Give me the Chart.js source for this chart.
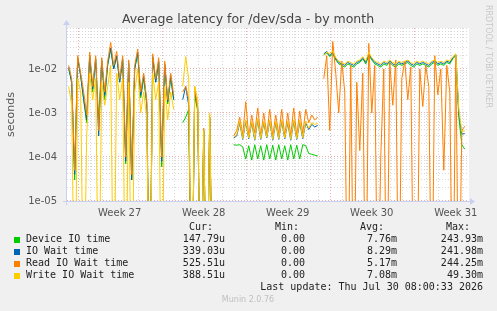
<!DOCTYPE html>
<html>
<head>
<meta charset="utf-8">
<script src="https://cdn.jsdelivr.net/npm/chart.js@4/dist/chart.umd.min.js"></script>
<style>
  html, body { margin: 0; padding: 0; background: #f0f0f0; }
  canvas { display: block; }
</style>
</head>
<body>
<canvas id="chart" width="497" height="311"></canvas>
<script>
// samples every 6 hours, day 0 = monday of week 27
const startDay = -0.75;
const stepDay = 0.25;

const weekCenters = [3.5, 10.5, 17.5, 24.5, 31.5];
const weekLabels = ["Week 27", "Week 28", "Week 29", "Week 30", "Week 31"];

const seriesNames = ["Device IO time", "IO Wait time", "Read IO Wait time", "Write IO Wait time"];
const seriesColors = ["#00cc00", "#0066b3", "#ff8000", "#ffcc00"];
const curValues = ["147.79u", "339.03u", "525.51u", "388.51u"];
const minValues = ["0.00", "0.00", "0.00", "0.00"];
const avgValues = ["7.76m", "8.29m", "5.17m", "7.08m"];
const maxValues = ["243.93m", "241.98m", "244.25m", "49.30m"];

const deviceIo = [
  0.01, 0.005, 0.00003, 0.017, 0.007, 0.002, 0.0006, 0.019, 0.003, 0.016,
  0.0007, 0.015, 0.002, 0.012, 0.028, 0.01, 0.019, 0.005, 0.016, 0.00007,
  0.013, 0.00003, 0.01, 0.022, 0.0022, 0.006, 0.0016, 0, 0.018, 0.005,
  0.014, 0.00006, 0.012, 0.0016, 0.006, 0.002,
  null, null,
  0.0006, 0.0008, 0.0012, 0, 0.0025, 0.0011, 0, 0.0004, 0, 0.0007, 0, 0, 0, 0,
  null, null, null,
  1.9e-4, 1.85e-4, 1.9e-4, 1.7e-4, 9e-5, 1.8e-4, 8.5e-5, 1.9e-4, 9e-5, 1.8e-4,
  8.5e-5, 1.9e-4, 9e-5, 1.85e-4, 8.5e-5, 1.9e-4, 9e-5, 1.8e-4, 8.5e-5, 1.9e-4,
  9e-5, 1.85e-4, 9e-5, 1.9e-4, 1.8e-4, 1.2e-4, 1.15e-4, 1.1e-4, 1.05e-4,
  null,
  0.021, 0.023, 0.019, 0.022, 0.016, 0.013, 0.012, 0.011, 0.013, 0.012,
  0.011, 0.013, 0.014, 0.017, 0.013, 0.02, 0.016, 0.013, 0.012, 0.011,
  0.013, 0.012, 0.014, 0.012, 0.011, 0.013, 0.012, 0.013, 0.014, 0.012,
  0.011, 0.013, 0.012, 0.013, 0.012, 0.011, 0.013, 0.014, 0.012, 0.013,
  0.012, 0.014, 0.013, 0.017, 0.02, 0.0008, 0.00019, 0.00015
];

const ioWait = [
  0.011, 0.005, 0.00004, 0.018, 0.007, 0.002, 0.0007, 0.02, 0.0035, 0.017,
  0.0003, 0.016, 0.0025, 0.013, 0.03, 0.01, 0.02, 0.005, 0.017, 0.00008,
  0.014, 0.00003, 0.01, 0.024, 0.0025, 0.007, 0.0018, 0, 0.019, 0.005,
  0.015, 0.00008, 0.013, 0.0018, 0.007, 0.002,
  null, null,
  0.002, 0.004, 0.0015, 0, 0.003, 0.0013, 0, 0.0004, 0, 0.0008, 0, 0, 0, 0,
  null, null, null,
  2.7e-4, 3e-4, 6e-4, 2.5e-4, 6.5e-4, 2.6e-4, 6e-4, 2.4e-4, 7e-4, 2.5e-4,
  6e-4, 2.7e-4, 6.5e-4, 2.4e-4, 6e-4, 2.5e-4, 6.5e-4, 2.6e-4, 6e-4, 2.4e-4,
  6.5e-4, 2.5e-4, 6.2e-4, 2.6e-4, 6e-4, 4.2e-4, 5.5e-4, 4.8e-4, 5.2e-4,
  null,
  0.022, 0.025, 0.02, 0.024, 0.017, 0.014, 0.013, 0.012, 0.014, 0.013,
  0.012, 0.014, 0.015, 0.018, 0.014, 0.022, 0.017, 0.014, 0.013, 0.012,
  0.014, 0.013, 0.015, 0.013, 0.012, 0.014, 0.013, 0.014, 0.015, 0.013,
  0.012, 0.014, 0.013, 0.014, 0.013, 0.012, 0.014, 0.015, 0.013, 0.014,
  0.013, 0.015, 0.014, 0.018, 0.021, 0.001, 0.00033, 0.00034
];

const readWait = [
  0.012, 0.006, 0.00005, 0.02, 0.008, 0.003, 0.0009, 0.024, 0.004, 0.02,
  0.0004, 0.018, 0.003, 0.015, 0.04, 0.012, 0.025, 0.006, 0.02, 0.0001,
  0.016, 0.00004, 0.012, 0.028, 0.003, 0.008, 0.002, 0, 0.022, 0.006,
  0.018, 0.0001, 0.015, 0.002, 0.008, 0.0025,
  null, null,
  0.003, 0.004, 0.002, 0, 0.004, 0.0012, 0, 0.00045, 0, 0.0008, 0, 0, 0, 0,
  null, null, null,
  3e-4, 4e-4, 8e-4, 3.2e-4, 1.8e-3, 3e-4, 9e-4, 3.5e-4, 1.3e-3, 3e-4,
  1e-3, 3.2e-4, 1.2e-3, 3e-4, 9e-4, 3.3e-4, 1.2e-3, 3e-4, 1e-3, 3.1e-4,
  1.3e-3, 3e-4, 1.1e-3, 3.4e-4, 1.2e-3, 6e-4, 9e-4, 7e-4, 8e-4,
  null,
  0.006, 0.02, 0.0004, 0.042, 0.008, 0.001, 0.015, 0.003, 0, 0.012,
  0, 0.005, 0.00014, 0.008, 0, 0.038, 0.001, 0.012, 0, 0.0001,
  0.01, 0, 0.014, 0.0015, 0.016, 0, 0.006, 0.015, 0.002, 0.011,
  0, 0, 0.01, 0.0014, 0.012, 0.004, 0, 0.02, 0.0026, 0.01,
  0.00005, 0.012, 0.003, 0, 0.02, 0, 0.0004, 0.0005
];

const writeWait = [
  0.004, 0.0015, 0, 0.006, 0.003, 0, 0.0003, 0.008, 0.002, 0.006,
  0, 0.005, 0.0015, 0.004, 0.012, 0, 0.008, 0.002, 0.006, 0,
  0.005, 0, 0.003, 0.01, 0.001, 0.003, 0.0008, 0, 0.008, 0.002,
  0.005, 0, 0.004, 0.0007, 0.003, 0.0012,
  null, null,
  0.004, 0.019, 0.006, 0, 0.004, 0.002, 0, 0.0004, 0, 0.001, 0, 0, 0, 0,
  null, null, null,
  2.8e-4, 3.2e-4, 6.5e-4, 2.6e-4, 7e-4, 2.7e-4, 6.5e-4, 2.5e-4, 7.5e-4, 2.6e-4,
  6.5e-4, 2.8e-4, 7e-4, 2.5e-4, 6.5e-4, 2.6e-4, 7e-4, 2.7e-4, 6.5e-4, 2.5e-4,
  7e-4, 2.6e-4, 6.8e-4, 2.7e-4, 6.5e-4, 4.5e-4, 6e-4, 5.5e-4, 5.8e-4,
  null,
  0.02, 0.024, 0.022, 0.026, 0.018, 0.015, 0.014, 0.013, 0.015, 0.014,
  0.013, 0.015, 0.016, 0.019, 0.015, 0.024, 0.018, 0.015, 0.014, 0.013,
  0.015, 0.014, 0.016, 0.014, 0.013, 0.015, 0.014, 0.015, 0.016, 0.014,
  0.013, 0.015, 0.014, 0.015, 0.014, 0.013, 0.015, 0.016, 0.014, 0.015,
  0.014, 0.016, 0.015, 0.019, 0.022, 0.0012, 0.00038, 0.00039
];

const allSeries = [deviceIo, ioWait, readWait, writeWait];

// a log axis cannot show 0, so zero samples are drawn just under the bottom edge (clipped) like rrdtool does
const zeroFloor = 1e-8;

function toPoints(values) {
  return values.map((v, i) => ({ x: startDay + i * stepDay, y: v === 0 ? zeroFloor : v }));
}

function expLabel(v) {
  const e = Math.log10(v);
  if (Math.abs(e - Math.round(e)) > 1e-6) return "";
  const n = Math.round(e);
  return "1e" + (n < 0 ? "-" : "+") + String(Math.abs(n)).padStart(2, "0");
}

const MONO = "10px 'DejaVu Sans Mono'";
const GRID_MINOR = "rgba(170,170,170,0.45)";
const GRID_MAJOR = "rgba(225,120,120,0.6)";

// background, dotted grid, axes with arrows and the munin text block
const muninLook = {
  id: "muninLook",
  beforeDraw(chart) {
    const { ctx, chartArea: a } = chart;
    ctx.save();
    ctx.fillStyle = "#f0f0f0";
    ctx.fillRect(0, 0, chart.width, chart.height);
    ctx.fillStyle = "#ffffff";
    ctx.fillRect(a.left, a.top, a.right - a.left, a.bottom - a.top);
    ctx.restore();
  },
  beforeDatasetsDraw(chart) {
    const { ctx, chartArea: a } = chart;
    const xs = chart.scales.x, ys = chart.scales.y;
    ctx.save();
    ctx.lineWidth = 1;
    ctx.setLineDash([1, 2]);
    // days
    for (let d = Math.ceil(xs.min); d <= xs.max; d++) {
      const x = Math.round(xs.getPixelForValue(d)) + 0.5;
      ctx.strokeStyle = d % 7 === 0 ? GRID_MAJOR : GRID_MINOR;
      ctx.beginPath(); ctx.moveTo(x, a.top); ctx.lineTo(x, a.bottom); ctx.stroke();
    }
    // log lines
    for (let e = -5; e <= -1; e++) {
      for (let m = 1; m <= 9; m++) {
        const v = m * Math.pow(10, e);
        if (v < ys.min || v > ys.max) continue;
        const y = Math.round(ys.getPixelForValue(v)) - 0.5;
        ctx.strokeStyle = m === 1 ? GRID_MAJOR : GRID_MINOR;
        ctx.beginPath(); ctx.moveTo(a.left, y); ctx.lineTo(a.right, y); ctx.stroke();
      }
    }
    ctx.restore();
  },
  afterDatasetsDraw(chart) {
    const { ctx, chartArea: a } = chart;
    ctx.save();
    ctx.strokeStyle = "#c9d0f2";
    ctx.fillStyle = "#c9d0f2";
    ctx.lineWidth = 1;
    ctx.beginPath();
    ctx.moveTo(a.left - 0.5, a.bottom + 4); ctx.lineTo(a.left - 0.5, a.top - 4);
    ctx.moveTo(a.left - 4, a.bottom + 0.5); ctx.lineTo(a.right + 2, a.bottom + 0.5);
    ctx.stroke();
    ctx.beginPath();
    ctx.moveTo(a.left - 4, a.top - 3); ctx.lineTo(a.left + 3, a.top - 3); ctx.lineTo(a.left - 0.5, a.top - 8);
    ctx.closePath(); ctx.fill();
    ctx.beginPath();
    ctx.moveTo(a.right + 1, a.bottom - 3); ctx.lineTo(a.right + 1, a.bottom + 4); ctx.lineTo(a.right + 6, a.bottom + 0.5);
    ctx.closePath(); ctx.fill();
    ctx.restore();
  },
  afterDraw(chart) {
    const ctx = chart.ctx;
    ctx.save();
    // title
    ctx.fillStyle = "#444";
    ctx.font = "12.5px 'DejaVu Sans'";
    ctx.textAlign = "center";
    ctx.textBaseline = "alphabetic";
    ctx.fillText("Average latency for /dev/sda - by month", 248, 23);

    // vertical rrdtool credit
    ctx.save();
    ctx.translate(485, 5);
    ctx.rotate(Math.PI / 2);
    ctx.fillStyle = "#c8c8c8";
    ctx.font = "8px 'DejaVu Sans'";
    ctx.textAlign = "left";
    ctx.textBaseline = "middle";
    ctx.fillText("RRDTOOL / TOBI OETIKER", 0, -3);
    ctx.restore();

    // legend table
    ctx.font = MONO;
    ctx.fillStyle = "#222";
    ctx.textBaseline = "middle";
    ctx.textAlign = "right";
    const headY = 227.5;
    ctx.fillText("Cur:", 213, headY);
    ctx.fillText("Min:", 299, headY);
    ctx.fillText("Avg:", 384, headY);
    ctx.fillText("Max:", 470, headY);
    seriesNames.forEach((name, i) => {
      const y = 239.5 + i * 12;
      ctx.fillStyle = seriesColors[i];
      ctx.fillRect(14, Math.round(y) - 3, 6, 6);
      ctx.fillStyle = "#222";
      ctx.textAlign = "left";
      ctx.fillText(name, 26, y);
      ctx.textAlign = "right";
      ctx.fillText(curValues[i], 225, y);
      ctx.fillText(minValues[i], 305, y);
      ctx.fillText(avgValues[i], 397, y);
      ctx.fillText(maxValues[i], 483, y);
    });
    ctx.fillText("Last update: Thu Jul 30 08:00:33 2026", 483, 287.5);

    ctx.fillStyle = "#c0c0c0";
    ctx.font = "8px 'DejaVu Sans'";
    ctx.textAlign = "center";
    ctx.fillText("Munin 2.0.76", 248, 300);
    ctx.restore();
  }
};

const drawOrder = [3, 2, 1, 0];

new Chart(document.getElementById("chart"), {
  type: "line",
  data: {
    datasets: allSeries.map((vals, i) => ({
      label: seriesNames[i],
      data: toPoints(vals),
      borderColor: seriesColors[i],
      backgroundColor: seriesColors[i],
      borderWidth: 1,
      pointRadius: 0,
      tension: 0,
      spanGaps: false,
      order: drawOrder[i]
    }))
  },
  options: {
    responsive: false,
    animation: false,
    events: [],
    layout: { padding: { left: 0, right: 28, top: 28, bottom: 0 } },
    plugins: {
      legend: { display: false },
      tooltip: { enabled: false },
      title: { display: false }
    },
    scales: {
      x: {
        type: "linear",
        min: -0.89,
        max: 32.6,
        grid: { display: false, drawTicks: false },
        border: { display: false },
        afterFit: s => { s.height = 110; },
        afterBuildTicks: s => { s.ticks = weekCenters.map(v => ({ value: v })); },
        ticks: {
          autoSkip: false,
          maxRotation: 0,
          padding: 6,
          color: "#555",
          font: { family: "'DejaVu Sans'", size: 10 },
          callback: (v, i) => weekLabels[i]
        }
      },
      y: {
        type: "logarithmic",
        min: 1e-5,
        max: 0.085,
        grid: { display: false, drawTicks: false },
        border: { display: false },
        afterFit: s => { s.width = 67; },
        title: {
          display: true,
          text: "seconds",
          color: "#555",
          font: { family: "'DejaVu Sans'", size: 11 },
          padding: { top: 5, bottom: 0 }
        },
        ticks: {
          autoSkip: false,
          padding: 10,
          color: "#555",
          font: { family: "'DejaVu Sans'", size: 10 },
          callback: v => expLabel(v)
        }
      }
    }
  },
  plugins: [muninLook]
});
</script>
</body>
</html>
